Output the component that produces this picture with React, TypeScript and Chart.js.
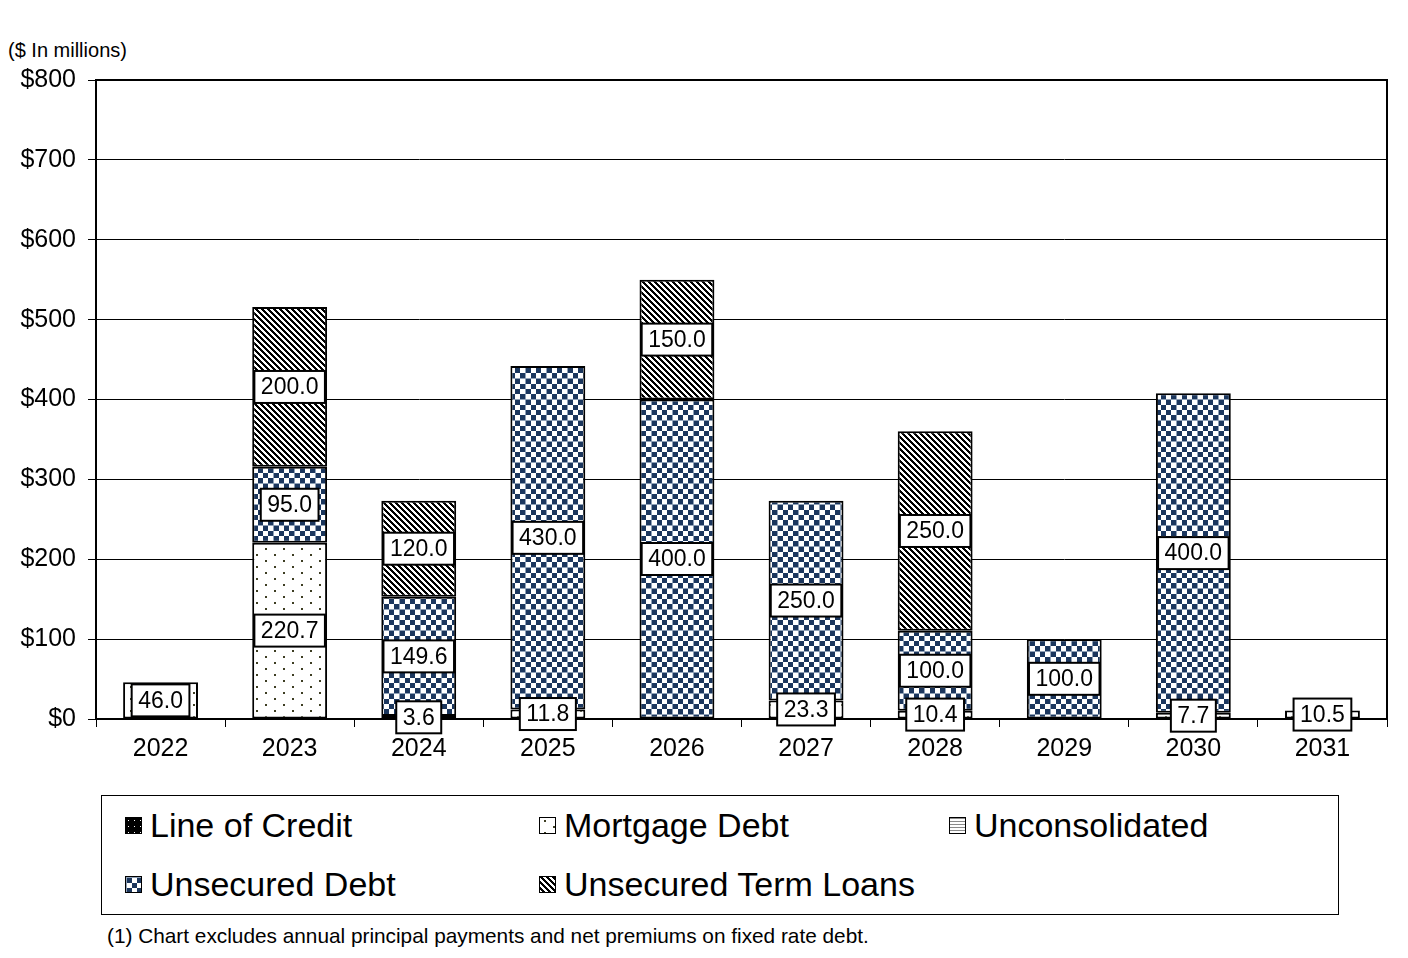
import React, { useEffect, useMemo, useRef } from "react";
import Chart from "chart.js/auto";

const years = ["2022", "2023", "2024", "2025", "2026", "2027", "2028", "2029", "2030", "2031"];
const lineOfCredit = [0, 0, 0, 0, 0, 0, 0, 0, 0, 0];
const mortgageDebt = [46.0, 220.7, 3.6, 11.8, 0, 23.3, 10.4, 0, 7.7, 10.5];
const unconsolidated = [0, 0, 0, 0, 0, 0, 0, 0, 0, 0];
const unsecuredDebt = [0, 95.0, 149.6, 430.0, 400.0, 250.0, 100.0, 100.0, 400.0, 0];
const termLoans = [0, 200.0, 120.0, 0, 150.0, 0, 250.0, 0, 0, 0];

const seriesNames = ["Line of Credit", "Mortgage Debt", "Unconsolidated", "Unsecured Debt", "Unsecured Term Loans"];
const yMax = 800;
const yStep = 100;

const FONT = '"Liberation Sans", Arial, sans-serif';
const NAVY = "#1B365D";

// small tile canvases used as fill patterns
function tile(w: number, h: number, px: (x: number, y: number) => string | null) {
	const c = document.createElement("canvas");
	c.width = w;
	c.height = h;
	const ctx = c.getContext("2d")!;
	ctx.fillStyle = "#fff";
	ctx.fillRect(0, 0, w, h);
	for (let y = 0; y < h; y++) {
		for (let x = 0; x < w; x++) {
			const col = px(x, y);
			if (col) {
				ctx.fillStyle = col;
				ctx.fillRect(x, y, 1, 1);
			}
		}
	}
	return c;
}

function makeTiles() {
	const credit = tile(6, 6, (x, y) => (x === 2 && y === 2 ? null : "#000"));
	const mortgage = tile(18, 12, (x, y) =>
		(x >= 4 && x < 6 && y >= 2 && y < 4) || (x >= 13 && x < 15 && y >= 8 && y < 10) ? "#3d3d22" : null
	);
	const uncon = tile(3, 3, (x, y) => (y === 0 ? "#8a8a8a" : null));
	const checker = tile(21, 21, (x, y) => {
		if (x === 0 || y === 0) return "#8fa0b6";
		return (Math.floor((x - 1) / 5) + Math.floor((y - 1) / 5)) % 2 === 0 ? NAVY : null;
	});
	const hatch = tile(6, 6, (x, y) => ((((x - y) % 6) + 6) % 6 < 3 ? "#000" : null));
	return [credit, mortgage, uncon, checker, hatch];
}

const boxLabels = {
	id: "boxLabels",
	afterDatasetsDraw(chart: any) {
		const ctx = chart.ctx;
		const area = chart.chartArea;
		ctx.save();
		// frame round the plot
		ctx.strokeStyle = "#000";
		ctx.lineWidth = 2;
		ctx.strokeRect(area.left, area.top, area.right - area.left, area.bottom - area.top);

		ctx.font = "23px " + FONT;
		ctx.textAlign = "center";
		ctx.textBaseline = "middle";
		chart.data.datasets.forEach((ds: any, i: number) => {
			const meta = chart.getDatasetMeta(i);
			meta.data.forEach((bar: any, j: number) => {
				const v = ds.data[j];
				if (!v) return;
				const { x, y, base } = bar.getProps(["x", "y", "base"], true);
				const cy = (y + base) / 2;
				const text = v.toFixed(1);
				const w = ctx.measureText(text).width + 13;
				const h = 32;
				ctx.fillStyle = "#fff";
				ctx.fillRect(x - w / 2, cy - h / 2, w, h);
				ctx.lineWidth = 2;
				ctx.strokeStyle = "#000";
				ctx.strokeRect(x - w / 2, cy - h / 2, w, h);
				ctx.fillStyle = "#000";
				ctx.fillText(text, x, cy + 1);
			});
		});
		ctx.restore();
	},
};

const App: React.FC = () => {
	const chartRef = useRef<HTMLCanvasElement | null>(null);
	const chartInstance = useRef<Chart | null>(null);
	const tiles = useMemo(() => makeTiles(), []);

	useEffect(() => {
		document.body.style.margin = "0";
		if (chartInstance.current) {
			chartInstance.current.destroy();
			chartInstance.current = null;
		}
		if (!chartRef.current) return;
		const ctx = chartRef.current.getContext("2d")!;
		const fills = tiles.map((t) => ctx.createPattern(t, "repeat"));
		const values = [lineOfCredit, mortgageDebt, unconsolidated, unsecuredDebt, termLoans];

		chartInstance.current = new Chart(ctx, {
			type: "bar",
			data: {
				labels: years,
				datasets: values.map((data, i) => ({
					label: seriesNames[i],
					data: data,
					backgroundColor: fills[i] as any,
					borderColor: "#000",
					borderWidth: 2,
					borderSkipped: false,
					barPercentage: 0.58,
					categoryPercentage: 1,
				})),
			},
			options: {
				animation: false,
				responsive: true,
				maintainAspectRatio: false,
				layout: { padding: { top: 80, right: 21, bottom: 0, left: 0 } },
				plugins: {
					legend: { display: false },
					tooltip: { enabled: false },
				},
				scales: {
					x: {
						stacked: true,
						grid: { drawOnChartArea: false, color: "#000", tickLength: 8 },
						border: { color: "#000", width: 2 },
						ticks: { color: "#000", font: { size: 25, family: FONT }, padding: 7 },
						afterFit: (s: any) => {
							s.height = 56;
						},
					},
					y: {
						stacked: true,
						min: 0,
						max: yMax,
						grid: { color: "#000", tickLength: 8 },
						border: { color: "#000", width: 2 },
						ticks: {
							stepSize: yStep,
							color: "#000",
							font: { size: 25, family: FONT },
							padding: 12,
							callback: (v: any) => "$" + v,
						},
						afterFit: (s: any) => {
							s.width = 96;
						},
					},
				} as any,
			},
			plugins: [boxLabels],
		});

		return () => {
			if (chartInstance.current) {
				chartInstance.current.destroy();
				chartInstance.current = null;
			}
		};
	}, [tiles]);

	const swatchUrls = tiles.map((t) => t.toDataURL());
	const colX = [23, 437, 847];
	const rowY = [29, 88];

	return (
		<div style={{ position: "relative", width: 1408, height: 958, fontFamily: FONT, color: "#000" }}>
			<div style={{ position: "absolute", left: 8, top: 38, fontSize: 20, lineHeight: "24px" }}>($ In millions)</div>
			<div style={{ position: "absolute", left: 0, top: 0, width: 1408, height: 775 }}>
				<canvas ref={chartRef}></canvas>
			</div>
			<div
				style={{
					position: "absolute",
					left: 101,
					top: 795,
					width: 1236,
					height: 118,
					border: "1px solid #000",
				}}
			>
				{seriesNames.map((name, i) => (
					<div
						key={name}
						style={{
							position: "absolute",
							left: colX[i % 3],
							top: rowY[Math.floor(i / 3)] - 20,
							height: 40,
							display: "flex",
							alignItems: "center",
							whiteSpace: "nowrap",
							fontSize: 34,
						}}
					>
						<span
							style={{
								display: "inline-block",
								width: 15,
								height: 15,
								border: "1px solid #000",
								marginRight: 8,
								backgroundImage: `url(${swatchUrls[i]})`,
							}}
						></span>
						{name}
					</div>
				))}
			</div>
			<div style={{ position: "absolute", left: 107, top: 924, fontSize: 20.8, lineHeight: "24px" }}>
				(1) Chart excludes annual principal payments and net premiums on fixed rate debt.
			</div>
		</div>
	);
};

export default App;
